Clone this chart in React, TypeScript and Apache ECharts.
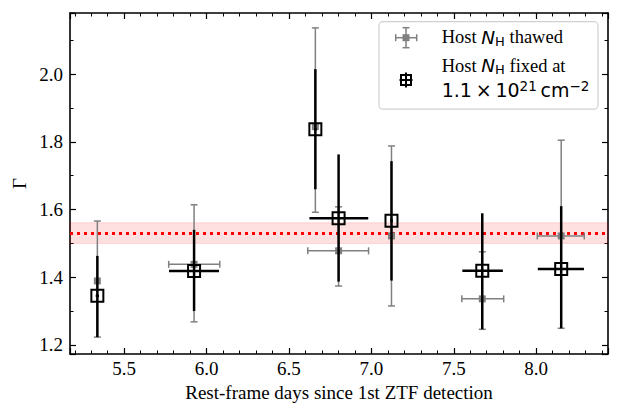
import React, { useEffect, useRef } from "react";
import * as echarts from "echarts";

// Rest-frame days since 1st ZTF detection
const days = [5.337, 5.924, 6.66, 6.801, 7.122, 7.673, 8.152];

// Host N_H fixed at 1.1e21 cm^-2 (black)
const fixedGamma = [1.345, 1.418, 1.837, 1.574, 1.567, 1.419, 1.424];
const fixedGammaLow = [1.223, 1.3, 1.66, 1.387, 1.39, 1.246, 1.249];
const fixedGammaHigh = [1.463, 1.54, 2.015, 1.763, 1.743, 1.589, 1.61];
const fixedDayLow = [5.327, 5.772, 6.652, 6.624, 7.114, 7.552, 8.01];
const fixedDayHigh = [5.347, 6.075, 6.668, 6.981, 7.13, 7.798, 8.29];

// Host N_H thawed (gray)
const thawedGamma = [1.389, 1.438, 1.845, 1.478, 1.522, 1.336, 1.522];
const thawedGammaLow = [1.223, 1.268, 1.592, 1.374, 1.315, 1.246, 1.249];
const thawedGammaHigh = [1.566, 1.614, 2.137, 1.608, 1.788, 1.475, 1.805];
const thawedDayLow = [5.33, 5.77, 6.652, 6.614, 7.114, 7.549, 8.007];
const thawedDayHigh = [5.344, 6.08, 6.668, 6.983, 7.13, 7.803, 8.292];

// mean photon index and its band
const meanGamma = 1.53;
const bandLow = 1.5;
const bandHigh = 1.561;

const xMin = 5.171;
const xMax = 8.436;
const yMin = 1.173;
const yMax = 2.181;

const SERIF = "'Liberation Serif', 'Times New Roman', serif";
const SANS = "'DejaVu Sans', sans-serif";
const GRAY = "#808080";

function makeErr(y: number[], yl: number[], yh: number[], xl: number[], xh: number[]) {
  return days.map((d, i) => [d, y[i], xl[i], xh[i], yl[i], yh[i]]);
}

function errRender(color: string, width: number, cap: number) {
  return (params: any, api: any) => {
    const x = api.value(0);
    const y = api.value(1);
    const xl = api.value(2);
    const xh = api.value(3);
    const yl = api.value(4);
    const yh = api.value(5);
    const pLow = api.coord([x, yl]);
    const pHigh = api.coord([x, yh]);
    const pL = api.coord([xl, y]);
    const pR = api.coord([xh, y]);
    const style = { stroke: color, lineWidth: width };
    const children: any[] = [
      { type: "line", shape: { x1: pLow[0], y1: pLow[1], x2: pHigh[0], y2: pHigh[1] }, style },
      { type: "line", shape: { x1: pL[0], y1: pL[1], x2: pR[0], y2: pR[1] }, style },
    ];
    if (cap > 0) {
      children.push(
        { type: "line", shape: { x1: pLow[0] - cap, y1: pLow[1], x2: pLow[0] + cap, y2: pLow[1] }, style },
        { type: "line", shape: { x1: pHigh[0] - cap, y1: pHigh[1], x2: pHigh[0] + cap, y2: pHigh[1] }, style }
      );
      if (pR[0] - pL[0] > 6) {
        children.push(
          { type: "line", shape: { x1: pL[0], y1: pL[1] - cap, x2: pL[0], y2: pL[1] + cap }, style },
          { type: "line", shape: { x1: pR[0], y1: pR[1] - cap, x2: pR[0], y2: pR[1] + cap }, style }
        );
      }
    }
    return { type: "group", children };
  };
}

export default function App() {
  const ref = useRef<HTMLDivElement>(null);
  useEffect(() => {
    document.body.style.margin = "0";
    const chart = echarts.init(ref.current!, null, { renderer: "svg" });
    const axisCommon = {
      type: "value" as const,
      axisLine: { show: true, onZero: false, lineStyle: { color: "#000", width: 1.6 } },
      axisTick: { show: true, inside: true, length: 6, lineStyle: { color: "#000", width: 1.2 } },
      minorTick: { show: true, length: 3.5, lineStyle: { color: "#000", width: 1 } },
      splitLine: { show: false },
      minorSplitLine: { show: false },
    };
    const labelCommon = {
      color: "#000",
      fontFamily: SERIF,
      fontSize: 19,
      showMinLabel: false,
      showMaxLabel: false,
    };
    const xAxisBase = { ...axisCommon, min: xMin, max: xMax, minInterval: 0.5, maxInterval: 0.5, splitNumber: 6 };
    const yAxisBase = { ...axisCommon, min: yMin, max: yMax, minInterval: 0.2, maxInterval: 0.2, splitNumber: 5 };

    const legendX = 379;
    const legendY = 21.7;

    chart.setOption({
      animation: false,
      grid: { left: 70, right: 15, top: 13, bottom: 61 },
      xAxis: [
        {
          ...xAxisBase,
          position: "bottom",
          minorTick: { ...axisCommon.minorTick, splitNumber: 5 },
          axisLabel: { ...labelCommon, margin: 5, formatter: (v: number) => v.toFixed(1) },
          name: "Rest-frame days since 1st ZTF detection",
          nameLocation: "middle",
          nameGap: 29,
          nameTextStyle: { color: "#000", fontFamily: SERIF, fontSize: 19 },
        },
        {
          ...xAxisBase,
          position: "top",
          minorTick: { ...axisCommon.minorTick, splitNumber: 5 },
          axisLabel: { show: false },
        },
      ],
      yAxis: [
        {
          ...yAxisBase,
          position: "left",
          minorTick: { ...axisCommon.minorTick, splitNumber: 2 },
          axisLabel: { ...labelCommon, margin: 7, formatter: (v: number) => v.toFixed(1) },
        },
        {
          ...yAxisBase,
          position: "right",
          minorTick: { ...axisCommon.minorTick, splitNumber: 2 },
          axisLabel: { show: false },
        },
      ],
      series: [
        {
          type: "custom",
          name: "thawed-err",
          xAxisIndex: 0,
          yAxisIndex: 0,
          z: 3,
          renderItem: errRender(GRAY, 1.5, 3.5),
          encode: { x: [0, 2, 3], y: [1, 4, 5] },
          data: makeErr(thawedGamma, thawedGammaLow, thawedGammaHigh, thawedDayLow, thawedDayHigh),
          markArea: {
            silent: true,
            z: 1,
            itemStyle: { color: "rgba(255,0,0,0.12)", borderColor: "rgba(255,0,0,0.12)", borderWidth: 1 },
            data: [[{ yAxis: bandLow }, { yAxis: bandHigh }]],
          },
          markLine: {
            silent: true,
            symbol: "none",
            z: 2,
            label: { show: false },
            lineStyle: { color: "#ff0000", width: 3, type: [3, 4] },
            data: [{ yAxis: meanGamma }],
          },
        },
        {
          type: "scatter",
          name: "thawed",
          z: 4,
          symbol: "rect",
          symbolSize: 7,
          itemStyle: { color: GRAY, opacity: 1 },
          data: days.map((d, i) => [d, thawedGamma[i]]),
        },
        {
          type: "custom",
          name: "fixed-err",
          z: 5,
          renderItem: errRender("#000", 2.5, 0),
          encode: { x: [0, 2, 3], y: [1, 4, 5] },
          data: makeErr(fixedGamma, fixedGammaLow, fixedGammaHigh, fixedDayLow, fixedDayHigh),
        },
        {
          type: "scatter",
          name: "fixed",
          z: 6,
          symbol: "rect",
          symbolSize: 12,
          itemStyle: { color: "rgba(0,0,0,0)", borderColor: "#000", borderWidth: 2, opacity: 1 },
          data: days.map((d, i) => [d, fixedGamma[i]]),
        },
      ],
      graphic: [
        {
          type: "text",
          x: 19,
          y: 183.5,
          rotation: Math.PI / 2,
          style: {
            text: "Γ",
            fontFamily: SERIF,
            fontSize: 19,
            fill: "#000",
            align: "center",
            verticalAlign: "middle",
          },
        },
        {
          type: "group",
          z: 100,
          children: [
            {
              type: "rect",
              shape: { x: legendX, y: legendY, width: 219, height: 87.5, r: 4 },
              style: { fill: "rgba(255,255,255,0.85)", stroke: "#d0d0d0", lineWidth: 1.2 },
            },
            // gray icon
            { type: "line", shape: { x1: 395.7, y1: 37.7, x2: 416.7, y2: 37.7 }, style: { stroke: GRAY, lineWidth: 1.5 } },
            { type: "line", shape: { x1: 406, y1: 27.7, x2: 406, y2: 47.7 }, style: { stroke: GRAY, lineWidth: 1.5 } },
            { type: "line", shape: { x1: 395.7, y1: 34.2, x2: 395.7, y2: 41.2 }, style: { stroke: GRAY, lineWidth: 1.5 } },
            { type: "line", shape: { x1: 416.7, y1: 34.2, x2: 416.7, y2: 41.2 }, style: { stroke: GRAY, lineWidth: 1.5 } },
            { type: "line", shape: { x1: 402.5, y1: 27.7, x2: 409.5, y2: 27.7 }, style: { stroke: GRAY, lineWidth: 1.5 } },
            { type: "line", shape: { x1: 402.5, y1: 47.7, x2: 409.5, y2: 47.7 }, style: { stroke: GRAY, lineWidth: 1.5 } },
            { type: "rect", shape: { x: 402.5, y: 34.2, width: 7, height: 7 }, style: { fill: GRAY } },
            // black icon
            { type: "line", shape: { x1: 406, y1: 72.5, x2: 406, y2: 87.5 }, style: { stroke: "#000", lineWidth: 2 } },
            { type: "line", shape: { x1: 399.5, y1: 80, x2: 412.5, y2: 80 }, style: { stroke: "#000", lineWidth: 2 } },
            { type: "rect", shape: { x: 401, y: 75, width: 10, height: 10 }, style: { fill: "none", stroke: "#000", lineWidth: 2 } },
            // texts
            {
              type: "text",
              style: {
                x: 441.7,
                y: 37.3,
                verticalAlign: "middle",
                align: "left",
                text: "{s|Host }{i|N}{sub|H}{s| thawed}",
                rich: {
                  s: { fontFamily: SERIF, fontSize: 18.5, fill: "#000" },
                  i: { fontFamily: SANS, fontStyle: "italic", fontSize: 18.5, fill: "#000" },
                  sub: { fontFamily: SANS, fontSize: 13, fill: "#000", padding: [8, 0, 0, 0] },
                },
              },
            },
            {
              type: "text",
              style: {
                x: 441.7,
                y: 65.7,
                verticalAlign: "middle",
                align: "left",
                text: "{s|Host }{i|N}{sub|H}{s| fixed at}",
                rich: {
                  s: { fontFamily: SERIF, fontSize: 18.5, fill: "#000" },
                  i: { fontFamily: SANS, fontStyle: "italic", fontSize: 18.5, fill: "#000" },
                  sub: { fontFamily: SANS, fontSize: 13, fill: "#000", padding: [8, 0, 0, 0] },
                },
              },
            },
            {
              type: "text",
              style: {
                x: 441.7,
                y: 90,
                verticalAlign: "middle",
                align: "left",
                text: "{m|1.1\u2009×\u200910}{sup|21}{m|\u2009cm}{sup|−2}",
                rich: {
                  m: { fontFamily: SANS, fontSize: 19, fill: "#000" },
                  sup: { fontFamily: SANS, fontSize: 13.5, fill: "#000", padding: [0, 0, 8, 0] },
                },
              },
            },
          ],
        },
      ],
    });
    return () => chart.dispose();
  }, []);
  return <div ref={ref} style={{ width: 623, height: 415 }} />;
}
